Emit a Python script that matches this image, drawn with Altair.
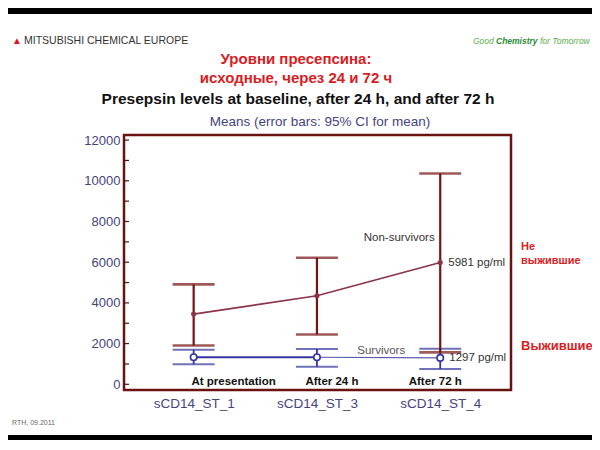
import altair as alt
import pandas as pd

# ---------------- data ----------------
categories = ["sCD14_ST_1", "sCD14_ST_3", "sCD14_ST_4"]
phases = ["At presentation", "After 24 h", "After 72 h"]
timepoint = [1, 2, 3]

ns_mean = [3450, 4350, 5981]      # non-survivors
ns_lo = [1910, 2450, 1570]
ns_hi = [4910, 6220, 10360]

sv_mean = [1330, 1330, 1297]      # survivors
sv_lo = [980, 860, 750]
sv_hi = [1700, 1730, 1750]

y_label_ticks = [0, 2000, 4000, 6000, 8000, 10000, 12000]
y_all_ticks = list(range(0, 13000, 1000))

# ---------------- layout / style ----------------
W, H = 387, 255
PL, PT, PR, PB = 116, 127, 81, 50
FONT = "Liberation Sans"
AX = "#444480"
RED_BAR = "#761313"
RED_LINE = "#8a3349"
BLUE = "#34349c"
BLUE_LIGHT = "#5656ae"
TITLE_RED = "#d8201f"

ns = pd.DataFrame({"t": timepoint, "mean": ns_mean, "lo": ns_lo, "hi": ns_hi,
                   "cat": categories, "phase": phases})
sv = pd.DataFrame({"t": timepoint, "mean": sv_mean, "lo": sv_lo, "hi": sv_hi,
                   "cat": categories, "phase": phases})

x_scale = alt.Scale(domain=[0.435, 3.574], nice=False, zero=False)
y_scale = alt.Scale(domain=[-280, 12250], nice=False, zero=False)

label_expr = " : ".join(
    [f"datum.value == {t} ? '{c}'" for t, c in zip(timepoint[:-1], categories[:-1])]
    + [f"'{categories[-1]}'"]
)

x_axis = alt.Axis(values=timepoint, labelExpr=label_expr, grid=False,
                  domain=False, ticks=False, tickSize=0, labelPadding=6,
                  labelFontSize=13.5, labelColor=AX, labelFont=FONT, title=None)
y_axis = alt.Axis(values=y_label_ticks, format="d", grid=False, domain=False,
                  ticks=False, tickSize=0, labelPadding=4,
                  labelFontSize=13, labelColor=AX, labelFont=FONT, title=None)


def Xq():
    return alt.X("t:Q", scale=x_scale, axis=x_axis, title=None)


def Yq(field):
    return alt.Y(f"{field}:Q", scale=y_scale, axis=y_axis, title=None)


# inward ticks on left frame
tick_df = pd.DataFrame({"v": y_all_ticks})
tick_layer = alt.Chart(tick_df).mark_rule(color="#4a1515", strokeWidth=1.2).encode(
    y=Yq("v"), x=alt.value(0), x2=alt.value(5)
)


def err_layers(df, color, width, cap_th):
    bars = alt.Chart(df).mark_rule(color=color, strokeWidth=width).encode(
        x=Xq(), y=Yq("lo"), y2="hi:Q")
    caps = alt.Chart(df).transform_fold(["lo", "hi"], as_=["k", "val"]).mark_tick(
        orient="horizontal", size=42, thickness=cap_th, color=color).encode(
        x=Xq(), y=Yq("val"))
    return [bars, caps]


sv_err = err_layers(sv, BLUE, 1.8, 2.0)
ns_err = err_layers(ns, RED_BAR, 2.2, 2.6)

sv_line1 = alt.Chart(sv).transform_filter("datum.t <= 2").mark_line(
    color=BLUE, strokeWidth=2).encode(x=Xq(), y=Yq("mean"))
sv_line2 = alt.Chart(sv).transform_filter("datum.t >= 2").mark_line(
    color=BLUE_LIGHT, strokeWidth=1.2).encode(x=Xq(), y=Yq("mean"))
ns_line = alt.Chart(ns).mark_line(color=RED_LINE, strokeWidth=1.6).encode(
    x=Xq(), y=Yq("mean"))

sv_pts = alt.Chart(sv).mark_point(shape="circle", filled=True, fill="white",
                                  stroke=BLUE, strokeWidth=1.6, size=42, opacity=1).encode(
    x=Xq(), y=Yq("mean"))
ns_pts = alt.Chart(ns).mark_point(shape="circle", filled=True, color=RED_LINE,
                                  size=26, opacity=1).encode(
    x=Xq(), y=Yq("mean"))

# value labels at last timepoint
ns_val = alt.Chart(ns).transform_filter("datum.t == 3").transform_calculate(
    lab="format(datum.mean, 'd') + ' pg/ml'").mark_text(
    align="left", baseline="middle", dx=8, fontSize=11.5, font=FONT, color="#333333").encode(
    x=Xq(), y=Yq("mean"), text="lab:N")
sv_val = alt.Chart(sv).transform_filter("datum.t == 3").transform_calculate(
    lab="format(datum.mean, 'd') + ' pg/ml'").mark_text(
    align="left", baseline="middle", dx=9, fontSize=11.5, font=FONT, color="#333333").encode(
    x=Xq(), y=Yq("mean"), text="lab:N")

ns_name = alt.Chart(ns).transform_filter("datum.t == 3").transform_calculate(
    lab="'Non-survivors'").mark_text(
    align="center", baseline="middle", dx=-41, dy=-25, fontSize=11.5, font=FONT,
    color="#333333").encode(x=Xq(), y=Yq("mean"), text="lab:N")
sv_name = alt.Chart(sv).transform_filter("datum.t == 3").transform_calculate(
    lab="'Survivors'").mark_text(
    align="center", baseline="middle", dx=-59, dy=-7, fontSize=11.5, font=FONT,
    color="#555555").encode(x=Xq(), y=Yq("mean"), text="lab:N")

# phase labels inside plot near the bottom
phase_dx = [40, 15, -5]
phase_layers = []
for t, dx in zip(timepoint, phase_dx):
    phase_layers.append(
        alt.Chart(ns).transform_filter(f"datum.t == {t}").mark_text(
            align="center", baseline="middle", dx=dx, dy=-2, fontSize=11.5,
            fontWeight="bold", font=FONT, color="#111111").encode(
            x=Xq(), y=alt.value(H - 6), text="phase:N"))


def txt(s, x, y, size, color, weight="normal", align="center", style="normal", font=FONT):
    return alt.Chart(pd.DataFrame({"s": [s]})).mark_text(
        align=align, baseline="middle", fontSize=size, fontWeight=weight,
        fontStyle=style, color=color, font=font).encode(
        text="s:N", x=alt.value(x), y=alt.value(y))


def rel_x(px):
    return px - 8 - PL


def rel_y(py):
    return py - 8 - PT


deco = []
# black slide bars
deco.append(alt.Chart(pd.DataFrame({"a": [0]})).mark_rect(color="black").encode(
    x=alt.value(rel_x(0)), x2=alt.value(rel_x(600)), y=alt.value(rel_y(0)), y2=alt.value(rel_y(14))))
deco.append(alt.Chart(pd.DataFrame({"a": [0]})).mark_rect(color="black").encode(
    x=alt.value(rel_x(0)), x2=alt.value(rel_x(600)), y=alt.value(rel_y(435)), y2=alt.value(rel_y(450))))

# header
deco.append(txt("▲", rel_x(17), rel_y(41), 10, "#e0141e"))
deco.append(txt("MITSUBISHI CHEMICAL EUROPE", rel_x(24), rel_y(41), 10.5, "#333333", align="left"))
deco.append(txt("Good", rel_x(473), rel_y(41), 8.5, "#5cae4c", style="italic", align="left"))
deco.append(txt("Chemistry", rel_x(496), rel_y(41), 8.5, "#2e8a36", weight="bold", style="italic", align="left"))
deco.append(txt("for Tomorrow", rel_x(540), rel_y(41), 8.5, "#5cae4c", style="italic", align="left"))

# titles
deco.append(txt("Уровни пресепсина:", rel_x(296), rel_y(59), 15, TITLE_RED, weight="bold"))
deco.append(txt("исходные, через 24 и 72 ч", rel_x(296), rel_y(78), 15, TITLE_RED, weight="bold"))
deco.append(txt("Presepsin levels at baseline, after 24 h, and after 72 h",
                rel_x(298), rel_y(99), 15.5, "#111111", weight="bold"))
deco.append(txt("Means  (error bars: 95% CI for mean)", rel_x(320), rel_y(122), 13.5, AX))

# right-side Russian labels
deco.append(txt("Не", rel_x(521), rel_y(247), 11, TITLE_RED, weight="bold", align="left"))
deco.append(txt("выжившие", rel_x(521), rel_y(261), 11, TITLE_RED, weight="bold", align="left"))
deco.append(txt("Выжившие", rel_x(521), rel_y(346), 13, TITLE_RED, weight="bold", align="left"))

# footer
deco.append(txt("RTH, 09.2011", rel_x(12), rel_y(423), 7, "#666666", align="left"))

chart = alt.layer(
    tick_layer, *deco,
    *sv_err, sv_line1, sv_line2,
    *ns_err, ns_line,
    sv_pts, ns_pts,
    ns_val, sv_val, ns_name, sv_name, *phase_layers,
).properties(
    width=W, height=H,
    autosize=alt.AutoSizeParams(type="none"),
    padding={"left": PL, "top": PT, "right": PR, "bottom": PB},
    background="white",
).configure_view(
    stroke="#6a1212", strokeWidth=2.5, fill="white"
)

chart.save("out.html", embed_options={"renderer": "svg", "actions": False})
